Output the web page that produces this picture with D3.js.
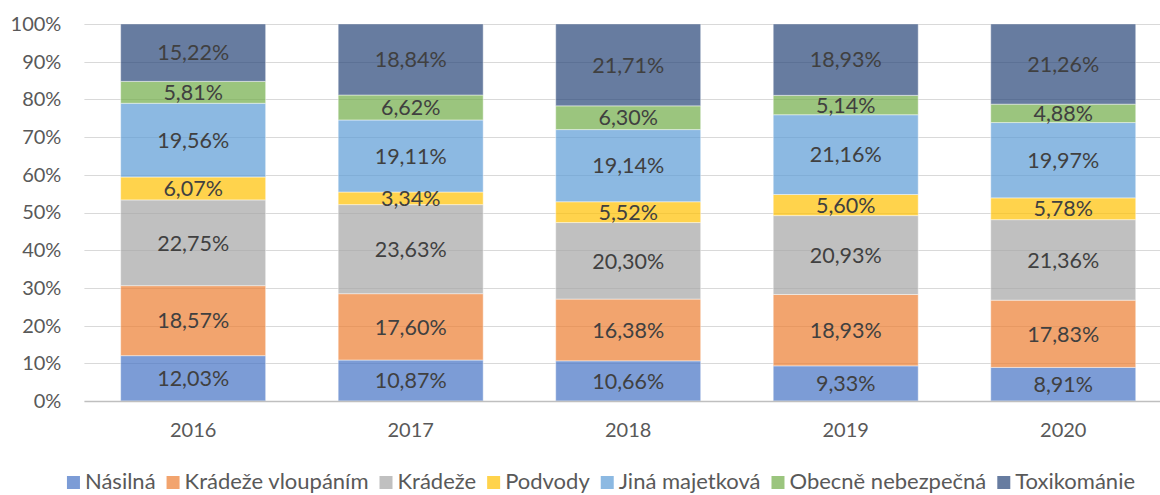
<!DOCTYPE html>
<html>
<head>
<meta charset="utf-8">
<script src="https://cdn.jsdelivr.net/npm/d3@7"></script>
<style>
  html, body { margin: 0; padding: 0; background: #fff; }
  svg { display: block; font-family: Lato, "Open Sans", sans-serif; }
</style>
</head>
<body>
<svg id="chart" width="1160" height="495"></svg>
<script>
// Structure of crime by year, shares in percent
const years = ["2016", "2017", "2018", "2019", "2020"];
const seriesNames = ["Násilná", "Krádeže vloupáním", "Krádeže", "Podvody", "Jiná majetková", "Obecně nebezpečná", "Toxikománie"];
const nasilna      = [12.03, 10.87, 10.66,  9.33,  8.91];
const vloupani     = [18.57, 17.60, 16.38, 18.93, 17.83];
const kradeze      = [22.75, 23.63, 20.30, 20.93, 21.36];
const podvody      = [ 6.07,  3.34,  5.52,  5.60,  5.78];
const jinaMajetk   = [19.56, 19.11, 19.14, 21.16, 19.97];
const obecneNebezp = [ 5.81,  6.62,  6.30,  5.14,  4.88];
const toxikomanie  = [15.22, 18.84, 21.71, 18.93, 21.26];
const yTicks = [0, 0.1, 0.2, 0.3, 0.4, 0.5, 0.6, 0.7, 0.8, 0.9, 1.0];
const colors = ["#4472C4", "#ED7D31", "#A5A5A5", "#FFC000", "#5B9BD5", "#70AD47", "#264478"];

const seriesValues = [nasilna, vloupani, kradeze, podvody, jinaMajetk, obecneNebezp, toxikomanie];
const rows = years.map((yr, i) => {
  const r = { year: yr };
  seriesNames.forEach((n, k) => { r[n] = seriesValues[k][i]; });
  return r;
});

const svg = d3.select("#chart");
const plotLeft = 84.4, plotRight = 1172, plotTop = 24, plotBottom = 401;

const x = d3.scaleBand().domain(years).range([plotLeft, plotRight])
  .paddingInner(72.5 / 217.5).paddingOuter(36.25 / 217.5);
const y = d3.scaleLinear().domain([0, 1]).range([plotBottom, plotTop]);
const color = d3.scaleOrdinal().domain(seriesNames).range(colors);

const fmtPct = d3.format(".0%");
const fmtLabel = v => v.toFixed(2).replace(".", ",") + "%";

// gridlines
svg.append("g")
  .selectAll("line")
  .data(yTicks.filter(t => t > 0))
  .join("line")
  .attr("x1", plotLeft).attr("x2", 1160)
  .attr("y1", d => Math.round(y(d)) + 0.5).attr("y2", d => Math.round(y(d)) + 0.5)
  .attr("stroke", "#D9D9D9").attr("stroke-width", 1);

// y axis labels
const yAxis = svg.append("g")
  .attr("transform", `translate(${plotLeft},0)`)
  .call(d3.axisLeft(y).tickValues(yTicks).tickFormat(fmtPct).tickSize(0).tickPadding(23));
yAxis.select(".domain").remove();
yAxis.selectAll("text").attr("font-size", 20).attr("fill", "#595959").attr("font-family", "Lato, sans-serif");

// stacked bars (normalised to 100 %)
const stack = d3.stack().keys(seriesNames).offset(d3.stackOffsetExpand);
const stacked = stack(rows);

const layers = svg.append("g")
  .selectAll("g")
  .data(stacked)
  .join("g")
  .attr("fill", d => color(d.key))
  .attr("fill-opacity", 0.7);

layers.selectAll("rect")
  .data(d => d)
  .join("rect")
  .attr("x", d => x(d.data.year))
  .attr("width", x.bandwidth())
  .attr("y", d => y(d[1]))
  .attr("height", d => y(d[0]) - y(d[1]))
  .attr("stroke", "#ffffff").attr("stroke-opacity", 0.45).attr("stroke-width", 1);

// baseline
svg.append("line")
  .attr("x1", plotLeft).attr("x2", 1160)
  .attr("y1", Math.round(y(0)) + 0.5).attr("y2", Math.round(y(0)) + 0.5)
  .attr("stroke", "#BFBFBF").attr("stroke-width", 1.5);

// value labels
const labels = svg.append("g");
stacked.forEach(layer => {
  layer.forEach(d => {
    labels.append("text")
      .attr("x", x(d.data.year) + x.bandwidth() / 2)
      .attr("y", (y(d[0]) + y(d[1])) / 2)
      .attr("dy", "0.36em")
      .attr("text-anchor", "middle")
      .attr("font-size", 21.5)
      .attr("fill", "#404040")
      .text(fmtLabel(d.data[layer.key]));
  });
});

// x axis labels
const xAxis = svg.append("g")
  .attr("transform", `translate(0,${plotBottom})`)
  .call(d3.axisBottom(x).tickSize(0).tickPadding(22));
xAxis.select(".domain").remove();
xAxis.selectAll("text").attr("font-size", 20).attr("fill", "#595959").attr("font-family", "Lato, sans-serif");

// legend
const legend = svg.append("g");
const items = legend.selectAll("g").data(seriesNames).join("g");
items.append("rect").attr("width", 13).attr("height", 13).attr("y", -13)
  .attr("fill", d => color(d)).attr("fill-opacity", 0.7);
items.append("text").attr("x", 18).attr("y", 0).attr("font-size", 22).attr("fill", "#595959").text(d => d);
let cx = 0;
const widths = [];
items.each(function () { widths.push(18 + this.querySelector("text").getComputedTextLength()); });
const gap = 11;
const total = d3.sum(widths) + gap * (widths.length - 1);
const startX = 601 - total / 2;
items.attr("transform", (d, i) => {
  const t = `translate(${startX + cx},489)`;
  cx += widths[i] + gap;
  return t;
});
</script>
</body>
</html>
